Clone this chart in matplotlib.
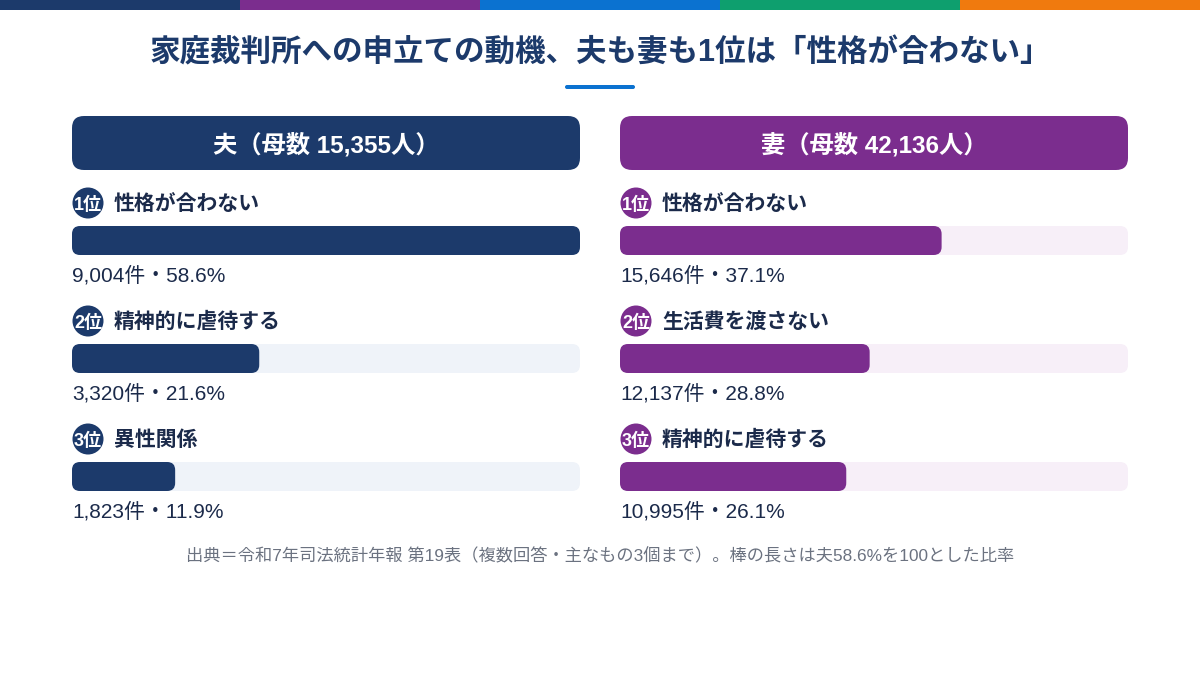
import matplotlib
matplotlib.use("Agg")
import matplotlib.pyplot as plt
from matplotlib.patches import FancyBboxPatch, Rectangle, Circle

# latin glyphs from Liberation Sans, kana/kanji fall through to Noto CJK
plt.rcParams['font.family'] = ['Liberation Sans', 'Noto Sans CJK JP']

# data
title = "家庭裁判所への申立ての動機、夫も妻も1位は「性格が合わない」"
panels = ["夫（母数 15,355人）", "妻（母数 42,136人）"]
husband_labels = ["性格が合わない", "精神的に虐待する", "異性関係"]
husband_counts = ["9,004", "3,320", "1,823"]
husband_pct = [58.6, 21.6, 11.9]
wife_labels = ["性格が合わない", "生活費を渡さない", "精神的に虐待する"]
wife_counts = ["15,646", "12,137", "10,995"]
wife_pct = [37.1, 28.8, 26.1]
ref_pct = 58.6
note = "出典＝令和7年司法統計年報 第19表（複数回答・主なもの3個まで）。棒の長さは夫58.6%を100とした比率"

stripe_colors = ["#1c3a6b", "#7b2d8e", "#0b72d0", "#0e9f6e", "#f07a0e"]
navy = "#1c3a6b"
purple = "#7b2d8e"
text_dark = "#1b2a4a"

fig = plt.figure(figsize=(12, 6.75), dpi=100)
ax = fig.add_axes([0, 0, 1, 1])
ax.set_xlim(0, 1200)
ax.set_ylim(675, 0)
ax.axis("off")

# top stripe
for i, c in enumerate(stripe_colors):
    ax.add_patch(Rectangle((i * 240, 0), 240, 10, color=c, lw=0))

ax.text(600, 53, title, ha="center", va="center", fontsize=22, fontweight="bold", color=navy)
ax.add_patch(FancyBboxPatch((565, 85), 70, 4, boxstyle="round,pad=0,rounding_size=2",
                            color="#0b72d0", lw=0))

panel_x = [72, 620]
panel_w = 508
series = [
    (husband_labels, husband_counts, husband_pct, navy, "#eff3f9"),
    (wife_labels, wife_counts, wife_pct, purple, "#f7eff8"),
]
row_y = [203, 321, 439]

for p, (x0, name, (labels, counts, pcts, col, track)) in enumerate(zip(panel_x, panels, series)):
    ax.add_patch(FancyBboxPatch((x0, 116), panel_w, 54, boxstyle="round,pad=0,rounding_size=12",
                                color=col, lw=0))
    ax.text(x0 + panel_w / 2, 145, name, ha="center", va="center", fontsize=17.5,
            fontweight="bold", color="white")
    for r, (lab, cnt, pct) in enumerate(zip(labels, counts, pcts)):
        y = row_y[r]
        ax.add_patch(Circle((x0 + 16, y), 15.5, color=col, lw=0))
        ax.text(x0 + 16, y + 2, f"{r + 1}位", ha="center", va="center", fontsize=13,
                fontweight="bold", color="white")
        ax.text(x0 + 42, y + 1, lab, ha="left", va="center", fontsize=15,
                fontweight="bold", color=text_dark)
        by = y + 23
        ax.add_patch(FancyBboxPatch((x0, by), panel_w, 29, boxstyle="round,pad=0,rounding_size=8",
                                    color=track, lw=0))
        w = pct / ref_pct * panel_w
        ax.add_patch(FancyBboxPatch((x0, by), w, 29, boxstyle="round,pad=0,rounding_size=8",
                                    color=col, lw=0))
        ax.text(x0, y + 73, f"{cnt}件・{pct}%", ha="left", va="center", fontsize=15,
                color=text_dark)

ax.text(600, 556, note, ha="center", va="center", fontsize=12.4, color="#6b7280")

fig.savefig("out.png", dpi=100)
